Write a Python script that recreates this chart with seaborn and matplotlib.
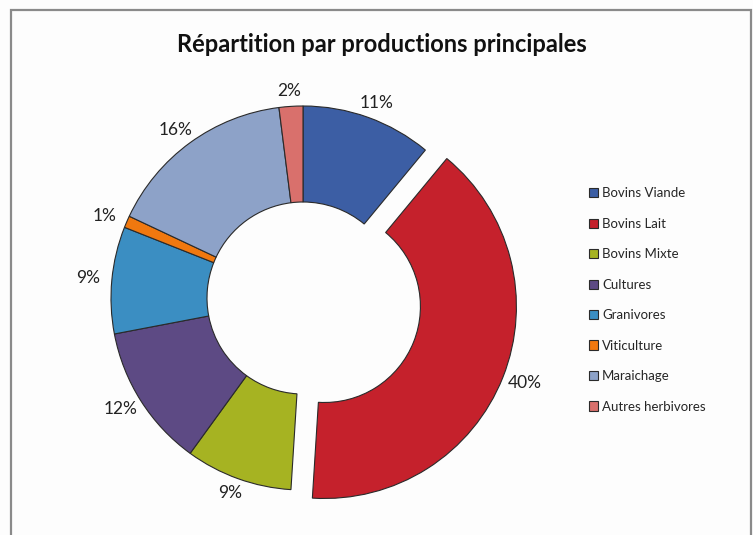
import numpy as np
import matplotlib
matplotlib.use("Agg")
import matplotlib.pyplot as plt
import seaborn as sns
from matplotlib.patches import Rectangle

# production categories and their shares (%)
categories = ["Bovins Viande", "Bovins Lait", "Bovins Mixte", "Cultures",
              "Granivores", "Viticulture", "Maraichage", "Autres herbivores"]
shares = [11, 40, 9, 12, 9, 1, 16, 2]
colors = ["#3c5ea4", "#c5212c", "#a6b322", "#5d4a84",
          "#3b8ec2", "#f0780f", "#8da2c8", "#d9706c"]
exploded = [0, 0.12, 0, 0, 0, 0, 0, 0]

sns.set_theme(style="white")
plt.rcParams["font.family"] = ["Lato", "DejaVu Sans"]

W, H = 753, 535
fig = plt.figure(figsize=(W / 100, H / 100), dpi=100)
fig.patch.set_facecolor("#fdfdfd")

# grey frame around the chart area (runs past the bottom edge)
fig.patches.append(Rectangle((11 / W, -0.05), (751 - 11) / W, 1.05 - 10 / H,
                             transform=fig.transFigure, fill=False,
                             edgecolor="#8a8a8a", linewidth=1.6))

ax = fig.add_axes([0, 0, 1, 1])
cx, cy, R = 303, 298, 192
wedges, _ = ax.pie(shares, colors=colors, explode=exploded, startangle=90,
                   counterclock=False, radius=1,
                   wedgeprops=dict(width=0.5, edgecolor="#2a2a2a", linewidth=0.8))
ax.set_xlim(-cx / R, (W - cx) / R)
ax.set_ylim(-(H - cy) / R, cy / R)
ax.set_aspect("equal")
ax.axis("off")

# percentage labels just outside the ring, nearest edge of the text box
# sitting a small gap off the outer rim
cum = np.cumsum([0] + shares[:-1])
for s, c, e in zip(shares, cum, exploded):
    ang = np.deg2rad(90 - (c + s / 2) * 3.6)
    ux, uy = np.cos(ang), np.sin(ang)
    r = 1.04 + e
    ax.text(r * ux + 0.085 * ux, r * uy + 0.04 * uy,
            f"{s}%", ha="center", va="center", fontsize=12.5, color="#222222")

fig.text(382 / W, 1 - 44 / H, "Répartition par productions principales",
         ha="center", va="center", fontsize=17, fontweight="bold", color="#111111")

fig.legend(wedges, categories, loc="center left",
           bbox_to_anchor=(577 / W, 1 - 300 / H), frameon=False,
           fontsize=9.5, handlelength=0.7, handleheight=0.7,
           handletextpad=0.3, labelspacing=1.4)

fig.savefig("out.png", dpi=100, facecolor=fig.get_facecolor())
